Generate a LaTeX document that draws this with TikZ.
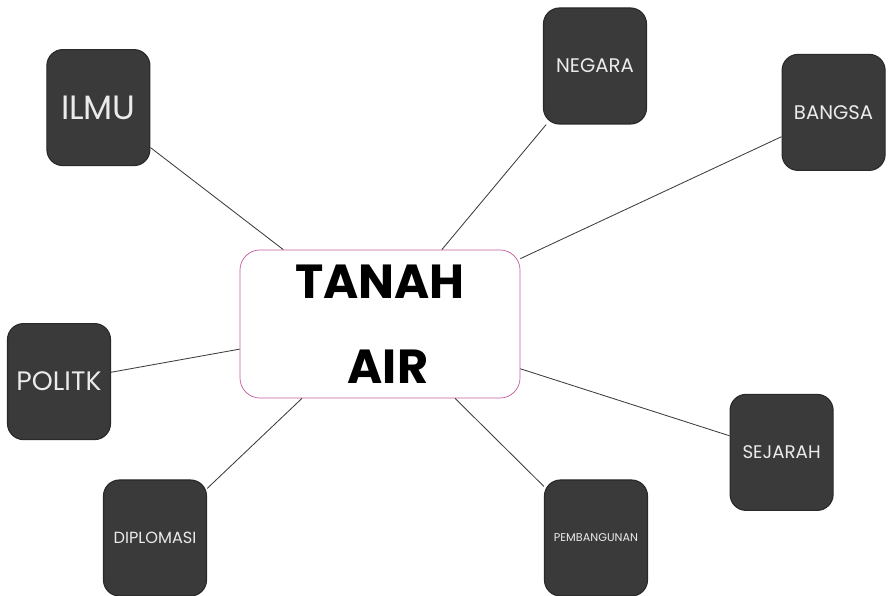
\documentclass[tikz,border=0pt]{standalone}
\usepackage{fontspec}
\setmainfont{Poppins}
\setsansfont{Poppins}
\definecolor{boxgray}{RGB}{58,58,58}
\definecolor{rimpink}{RGB}{196,90,160}
\definecolor{linkgray}{RGB}{60,60,60}

\begin{document}
\begin{tikzpicture}[auto,
  thick,main node/.style={rectangle,draw=boxgray!70!black,fill=boxgray,rounded corners=0.4cm,
    text=white!92!black,font=\sffamily,minimum height=2.9cm,minimum width=2.575cm,inner sep=1pt},
  hub node/.style={rectangle,draw=rimpink,line width=0.5pt,rounded corners=0.5cm,
    font=\sffamily\bfseries,minimum height=3.7cm,minimum width=7cm,align=center}]

  \useasboundingbox (0,0) rectangle (22.25,14.9);

  \node[hub node] (TANAHAIR) at (9.5,6.8) {};
  \node at (9.5,7.85) {\sffamily\bfseries\fontsize{34}{34}\selectfont TANAH};
  \node at (9.7,5.72) {\sffamily\bfseries\fontsize{34}{34}\selectfont AIR};
  \node[main node] (ILMU) at (2.46,12.21) {\fontsize{24}{24}\selectfont ILMU};
  \node[main node] (NEGARA) at (14.875,13.25) {\fontsize{14}{14}\selectfont NEGARA};
  \node[main node] (BANGSA) at (20.84,12.09) {\fontsize{14}{14}\selectfont BANGSA};
  \node[main node] (POLITK) at (1.475,5.36) {\fontsize{19}{19}\selectfont POLITK};
  \node[main node] (DIPLOMASI) at (3.875,1.45) {\fontsize{11.5}{11.5}\selectfont DIPLOMASI};
  \node[main node] (PEMBANGUNAN) at (14.9,1.45) {\fontsize{8}{8}\selectfont PEMBANGUNAN};
  \node[main node] (SEJARAH) at (19.54,3.59) {\fontsize{13}{13}\selectfont SEJARAH};

  \path[draw=linkgray,line width=0.6pt]
    (TANAHAIR) edge (ILMU)
    (TANAHAIR) edge (NEGARA)
    (TANAHAIR) edge (BANGSA)
    (TANAHAIR) edge (POLITK)
    (TANAHAIR) edge (DIPLOMASI)
    (TANAHAIR) edge (PEMBANGUNAN)
    (TANAHAIR) edge (SEJARAH)
    ;
\end{tikzpicture}
\end{document}
